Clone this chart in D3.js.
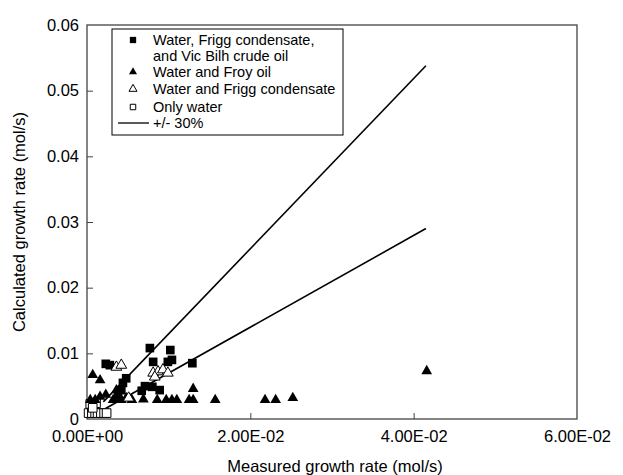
<!DOCTYPE html>
<html>
<head>
<meta charset="utf-8">
<script src="https://cdn.jsdelivr.net/npm/d3@7"></script>
<style>
  body { margin: 0; background: #fff; }
  svg text { font-family: "Liberation Sans", Arial, sans-serif; fill: #000; }
  .axis path, .axis line { stroke: #444; }
  .axis text { font-size: 16.5px; }
</style>
</head>
<body>
<div id="chart"></div>
<script>
// [measured, calculated] in mol/s
const waterFriggVicBilh = [
  [0.0023, 0.0084], [0.0028, 0.0082], [0.0077, 0.0108], [0.0102, 0.0105],
  [0.0081, 0.0087], [0.0099, 0.0087], [0.0104, 0.0090], [0.0129, 0.0085],
  [0.0044, 0.0055], [0.0048, 0.0062], [0.0042, 0.0044], [0.0038, 0.0035],
  [0.0071, 0.0050], [0.0080, 0.0049], [0.0089, 0.0044], [0.0067, 0.0043]
];
const waterFroy = [
  [0.0007, 0.0067], [0.0016, 0.0059], [0.0004, 0.0029], [0.0010, 0.0029],
  [0.0016, 0.0034], [0.0023, 0.0037], [0.0032, 0.0029], [0.0038, 0.0032],
  [0.0042, 0.0029], [0.0048, 0.0032], [0.0055, 0.0029], [0.0036, 0.0044],
  [0.0069, 0.0030], [0.0086, 0.0029], [0.0097, 0.0029], [0.0104, 0.0029],
  [0.0110, 0.0029], [0.0125, 0.0029], [0.0130, 0.0029], [0.0130, 0.0046],
  [0.0157, 0.0029], [0.0218, 0.0029], [0.0231, 0.0029], [0.0252, 0.0032],
  [0.0416, 0.0073]
];
const waterFrigg = [
  [0.0036, 0.0079], [0.0042, 0.0082], [0.0081, 0.0070], [0.0087, 0.0072],
  [0.0093, 0.0075], [0.0099, 0.0070], [0.0083, 0.0064], [0.0051, 0.0032]
];
const onlyWater = [
  [0.0002, 0.0009], [0.0006, 0.0009], [0.0010, 0.0009], [0.0013, 0.0009],
  [0.0017, 0.0009], [0.0021, 0.0009], [0.0024, 0.0009], [0.0004, 0.0023],
  [0.0011, 0.0024], [0.0007, 0.0017]
];
const upperLine = [[0.002, 0.0026], [0.0415, 0.0538]];
const lowerLine = [[0.002, 0.0014], [0.0415, 0.0290]];

const xTicks = [0, 0.02, 0.04, 0.06];
const xTickLabels = ['0.00E+00', '2.00E-02', '4.00E-02', '6.00E-02'];
const yTicks = [0, 0.01, 0.02, 0.03, 0.04, 0.05, 0.06];
const yTickLabels = ['0', '0.01', '0.02', '0.03', '0.04', '0.05', '0.06'];
const legendLabels = [
  ['Water, Frigg condensate,', 'and Vic Bilh crude oil'],
  ['Water and Froy oil'],
  ['Water and Frigg condensate'],
  ['Only water'],
  ['+/- 30%']
];

const width = 623, height = 475;
const margin = { top: 25, right: 46, bottom: 56, left: 87 };
const innerW = width - margin.left - margin.right;
const innerH = height - margin.top - margin.bottom;

const svg = d3.select('#chart').append('svg')
  .attr('width', width).attr('height', height);
const g = svg.append('g').attr('transform', `translate(${margin.left},${margin.top})`);

const x = d3.scaleLinear().domain([0, 0.06]).range([0, innerW]);
const y = d3.scaleLinear().domain([0, 0.06]).range([innerH, 0]);

// frame
g.append('rect').attr('width', innerW).attr('height', innerH)
  .attr('fill', 'none').attr('stroke', '#444').attr('stroke-width', 1.3);

const xAxis = g.append('g').attr('class', 'axis')
  .attr('transform', `translate(0,${innerH})`)
  .call(d3.axisBottom(x).tickValues(xTicks).tickSize(-6).tickPadding(11)
    .tickFormat((d, i) => xTickLabels[i]));
xAxis.select('.domain').remove();
xAxis.selectAll('.tick line').filter((d) => d === 0 || d === 0.06).remove();

const yAxis = g.append('g').attr('class', 'axis')
  .call(d3.axisLeft(y).tickValues(yTicks).tickSize(-6).tickPadding(8)
    .tickFormat((d, i) => yTickLabels[i]));
yAxis.select('.domain').remove();
yAxis.selectAll('.tick line').filter((d) => d === 0 || d === 0.06).remove();

svg.append('text')
  .attr('transform', 'rotate(-90)')
  .attr('x', -(margin.top + innerH / 2)).attr('y', 25)
  .attr('text-anchor', 'middle').style('font-size', '16.5px')
  .text('Calculated growth rate (mol/s)');
svg.append('text')
  .attr('x', margin.left + innerW / 2 + 3).attr('y', 472)
  .attr('text-anchor', 'middle').style('font-size', '16.5px')
  .text('Measured growth rate (mol/s)');

// +/- 30% lines
const line = d3.line().x((p) => x(p[0])).y((p) => y(p[1]));
[upperLine, lowerLine].forEach((l) => {
  g.append('path').datum(l).attr('d', line)
    .attr('fill', 'none').attr('stroke', '#000').attr('stroke-width', 1.6);
});

const sq = d3.symbol().type(d3.symbolSquare).size(75);
const tri = d3.symbol().type(d3.symbolTriangle).size(50);

function plot(data, sym, filled) {
  g.append('g').selectAll('path').data(data).join('path')
    .attr('transform', (p) => `translate(${x(p[0])},${y(p[1])})`)
    .attr('d', sym)
    .attr('fill', filled ? '#000' : '#fff')
    .attr('stroke', '#000').attr('stroke-width', filled ? 0 : 1);
}
plot(onlyWater, sq, false);
plot(waterFroy, tri, true);
plot(waterFriggVicBilh, sq, true);
plot(waterFrigg, tri, false);

// legend
const lg = svg.append('g').attr('transform', 'translate(112,29)');
lg.append('rect').attr('width', 231).attr('height', 106)
  .attr('fill', '#fff').attr('stroke', '#000').attr('stroke-width', 1);
const rowY = [11, 43, 60, 78, 94];
const legendSyms = [
  { s: d3.symbol().type(d3.symbolSquare).size(40), f: true },
  { s: d3.symbol().type(d3.symbolTriangle).size(28), f: true },
  { s: d3.symbol().type(d3.symbolTriangle).size(28), f: false },
  { s: d3.symbol().type(d3.symbolSquare).size(30), f: false }
];
legendLabels.forEach((lines, i) => {
  const ry = rowY[i];
  if (i < 4) {
    lg.append('path').attr('transform', `translate(21,${ry})`)
      .attr('d', legendSyms[i].s)
      .attr('fill', legendSyms[i].f ? '#000' : '#fff')
      .attr('stroke', '#000').attr('stroke-width', legendSyms[i].f ? 0 : 1);
  } else {
    lg.append('line').attr('x1', 6).attr('x2', 37).attr('y1', ry).attr('y2', ry)
      .attr('stroke', '#000').attr('stroke-width', 1.3);
  }
  lines.forEach((t, j) => {
    lg.append('text').attr('x', 41).attr('y', ry + j * 16 + 5)
      .style('font-size', '14.5px').text(t);
  });
});
</script>
</body>
</html>
